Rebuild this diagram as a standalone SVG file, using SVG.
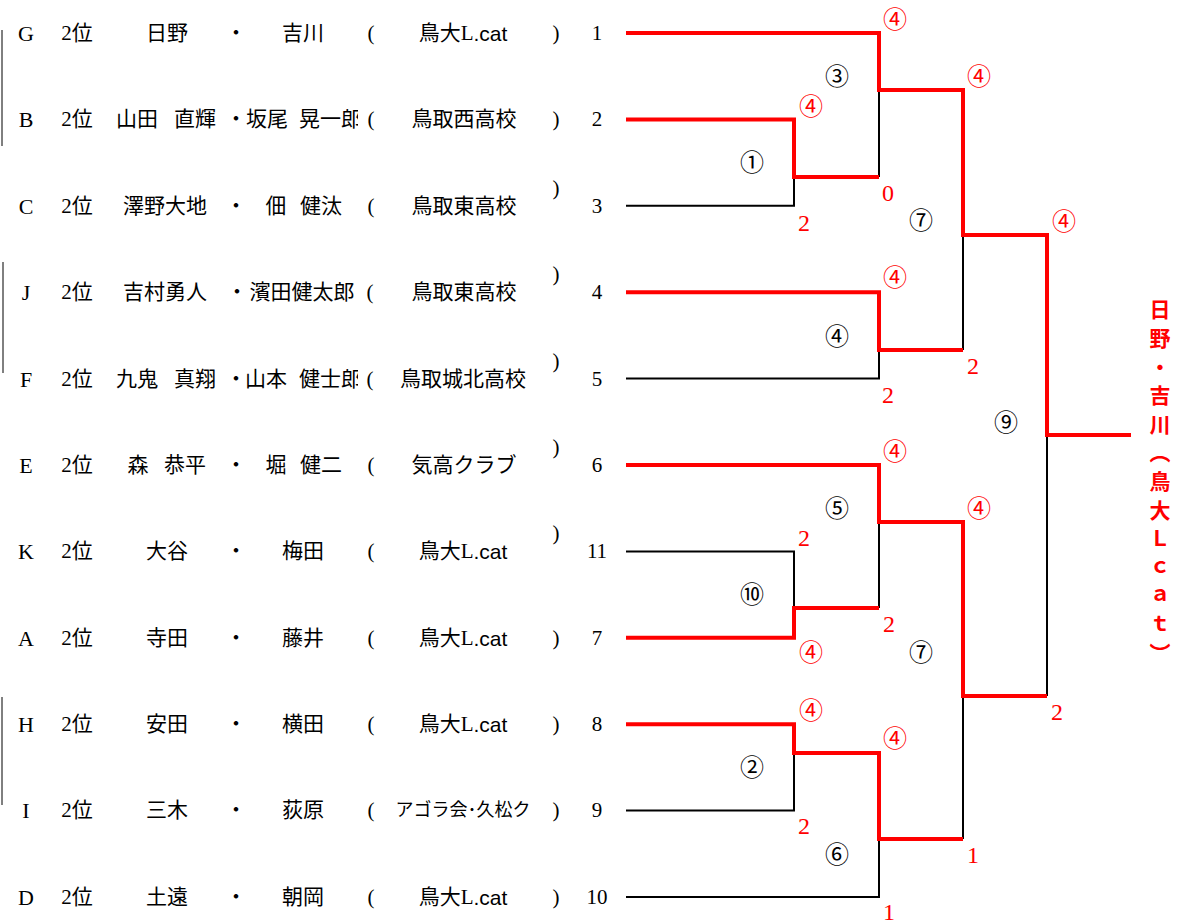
<svg xmlns="http://www.w3.org/2000/svg" width="1182" height="924" viewBox="0 0 1182 924">
<style>
text{font-family:"Liberation Serif","Noto Sans CJK JP",serif;font-size:21px;fill:#000;dominant-baseline:central}
.m{text-anchor:middle}
.s{text-anchor:start}
.sm{font-size:18px}
.lt{font-size:22px}
.lab{font-size:24px;text-anchor:middle}
.r{fill:#ff0000}
.bk{fill:none;stroke:#000;stroke-width:2}
.rd{fill:none;stroke:#ff0000;stroke-width:4}
.lv{fill:none;stroke:#000;stroke-width:1}
.sans{font-family:"Liberation Sans",sans-serif}
</style>
<defs>
<clipPath id="clipname"><rect x="0" y="0" width="358" height="924"/></clipPath>
</defs>
<rect width="1182" height="924" fill="#fff"/>
<g id="side-lines">
<path class="lv" d="M2,30V146M3,262V373M2,697V805"/>
</g>
<g id="row-G">
<text class="m lt" x="26" y="33">G</text><text class="m" x="77" y="33">2位</text>
<text class="m" x="167" y="33">日野</text><text class="m" x="236" y="33">・</text><text class="m" x="303" y="33">吉川</text>
<text class="m" x="371" y="33">(</text><text class="m" x="463" y="33">鳥大L<tspan class="sans">.cat</tspan></text><text class="m" x="556" y="33">)</text><text class="m" x="597" y="33">1</text>
</g>
<g id="row-B">
<text class="m lt" x="26" y="119">B</text><text class="m" x="77" y="119">2位</text>
<text class="m" x="137" y="119">山田</text><text class="m" x="195" y="119">直輝</text><text class="m" x="236" y="119">・</text><text class="m" x="267" y="119">坂尾</text>
<text class="s" x="299" y="119" clip-path="url(#clipname)">晃一郎</text>
<text class="m" x="371" y="119">(</text><text class="m" x="464" y="119">鳥取西高校</text><text class="m" x="556" y="119">)</text><text class="m" x="597" y="119">2</text>
</g>
<g id="row-C">
<text class="m lt" x="26" y="206">C</text><text class="m" x="77" y="206">2位</text>
<text class="m" x="165" y="206">澤野大地</text><text class="m" x="236" y="206">・</text><text class="m" x="276" y="206">佃</text><text class="m" x="321" y="206">健汰</text>
<text class="m" x="371" y="206">(</text><text class="m" x="464" y="206">鳥取東高校</text><text class="m" x="556" y="188">)</text><text class="m" x="597" y="206">3</text>
</g>
<g id="row-J">
<text class="m lt" x="26" y="292">J</text><text class="m" x="77" y="292">2位</text>
<text class="m" x="165" y="292">吉村勇人</text><text class="m" x="237" y="292">・</text><text class="m" x="302" y="292">濱田健太郎</text>
<text class="m" x="370" y="292">(</text><text class="m" x="464" y="292">鳥取東高校</text><text class="m" x="556" y="274">)</text><text class="m" x="597" y="292">4</text>
</g>
<g id="row-F">
<text class="m lt" x="26" y="379">F</text><text class="m" x="77" y="379">2位</text>
<text class="m" x="137" y="379">九鬼</text><text class="m" x="195" y="379">真翔</text><text class="m" x="236" y="379">・</text><text class="m" x="266" y="379">山本</text>
<text class="s" x="299" y="379" clip-path="url(#clipname)">健士郎</text>
<text class="m" x="370" y="379">(</text><text class="m" x="463" y="379">鳥取城北高校</text><text class="m" x="556" y="361">)</text><text class="m" x="597" y="379">5</text>
</g>
<g id="row-E">
<text class="m lt" x="26" y="465">E</text><text class="m" x="77" y="465">2位</text>
<text class="m" x="138" y="465">森</text><text class="m" x="185" y="465">恭平</text><text class="m" x="236" y="465">・</text><text class="m" x="276" y="465">堀</text><text class="m" x="321" y="465">健二</text>
<text class="m" x="371" y="465">(</text><text class="m" x="464" y="465">気高クラブ</text><text class="m" x="556" y="447">)</text><text class="m" x="597" y="465">6</text>
</g>
<g id="row-K">
<text class="m lt" x="26" y="551">K</text><text class="m" x="77" y="551">2位</text>
<text class="m" x="167" y="551">大谷</text><text class="m" x="236" y="551">・</text><text class="m" x="303" y="551">梅田</text>
<text class="m" x="371" y="551">(</text><text class="m" x="463" y="551">鳥大L<tspan class="sans">.cat</tspan></text><text class="m" x="556" y="533">)</text><text class="m" x="597" y="551">11</text>
</g>
<g id="row-A">
<text class="m lt" x="26" y="638">A</text><text class="m" x="77" y="638">2位</text>
<text class="m" x="167" y="638">寺田</text><text class="m" x="236" y="638">・</text><text class="m" x="303" y="638">藤井</text>
<text class="m" x="371" y="638">(</text><text class="m" x="463" y="638">鳥大L<tspan class="sans">.cat</tspan></text><text class="m" x="556" y="638">)</text><text class="m" x="597" y="638">7</text>
</g>
<g id="row-H">
<text class="m lt" x="26" y="724">H</text><text class="m" x="77" y="724">2位</text>
<text class="m" x="167" y="724">安田</text><text class="m" x="236" y="724">・</text><text class="m" x="303" y="724">横田</text>
<text class="m" x="371" y="724">(</text><text class="m" x="463" y="724">鳥大L<tspan class="sans">.cat</tspan></text><text class="m" x="556" y="724">)</text><text class="m" x="597" y="724">8</text>
</g>
<g id="row-I">
<text class="m lt" x="26" y="810">I</text><text class="m" x="77" y="810">2位</text>
<text class="m" x="167" y="810">三木</text><text class="m" x="236" y="810">・</text><text class="m" x="303" y="810">荻原</text>
<text class="m" x="371" y="810">(</text><text class="m sm" x="463" y="810">アゴラ会･久松ク</text><text class="m" x="556" y="810">)</text><text class="m" x="597" y="810">9</text>
</g>
<g id="row-D">
<text class="m lt" x="26" y="897">D</text><text class="m" x="77" y="897">2位</text>
<text class="m" x="167" y="897">土遠</text><text class="m" x="236" y="897">・</text><text class="m" x="303" y="897">朝岡</text>
<text class="m" x="371" y="897">(</text><text class="m" x="463" y="897">鳥大L<tspan class="sans">.cat</tspan></text><text class="m" x="556" y="897">)</text><text class="m" x="597" y="897">10</text>
</g>
<g id="connectors">
<path class="bk" d="M626,205.8H794V177M879,90V177M963,235V350M626,378.6H879V350M1047,435V696M626,551.4H794V608M879,522V608M963,696V839M626,810.6H794V753M626,897H879V839"/>
<path class="rd" d="M626,33H879V90H963V235H1047V435H1131"/>
<path class="rd" d="M626,119.4H794V177H879"/>
<path class="rd" d="M626,292.2H879V350H963"/>
<path class="rd" d="M626,465H879V522H963V696H1047"/>
<path class="rd" d="M626,637.8H794V608H879"/>
<path class="rd" d="M626,724.2H794V753H879V839H963"/>
</g>
<g id="match-labels">
<text class="lab" x="837" y="77">③</text>
<text class="lab" x="752" y="163">①</text>
<text class="lab" x="921" y="221">⑦</text>
<text class="lab" x="837" y="337">④</text>
<text class="lab" x="1006" y="423">⑨</text>
<text class="lab" x="837" y="509">⑤</text>
<text class="lab" x="752" y="595">⑩</text>
<text class="lab" x="921" y="653">⑦</text>
<text class="lab" x="752" y="768">②</text>
<text class="lab" x="837" y="855">⑥</text>
</g>
<g id="scores">
<text class="lab r" x="895" y="20">④</text>
<text class="lab r" x="979" y="77">④</text>
<text class="lab r" x="811" y="107">④</text>
<text class="lab r" x="1064" y="222">④</text>
<text class="lab r" x="895" y="278">④</text>
<text class="lab r" x="895" y="452">④</text>
<text class="lab r" x="979" y="509">④</text>
<text class="lab r" x="811" y="653">④</text>
<text class="lab r" x="811" y="711">④</text>
<text class="lab r" x="895" y="739">④</text>
<text class="lab r" x="888" y="193">0</text>
<text class="lab r" x="804" y="223">2</text>
<text class="lab r" x="973" y="366">2</text>
<text class="lab r" x="888" y="395">2</text>
<text class="lab r" x="804" y="538">2</text>
<text class="lab r" x="889" y="624">2</text>
<text class="lab r" x="1057" y="712">2</text>
<text class="lab r" x="804" y="826">2</text>
<text class="lab r" x="973" y="855">1</text>
<text class="lab r" x="889" y="912">1</text>
</g>
<g id="winner">
<text class="r" x="1160" y="299" style="writing-mode:vertical-rl;font-family:'Noto Sans CJK JP',sans-serif;font-size:21px;font-weight:bold;letter-spacing:7.6px;dominant-baseline:auto">日野・吉川（鳥大Ｌｃａｔ）</text>
</g>
</svg>
